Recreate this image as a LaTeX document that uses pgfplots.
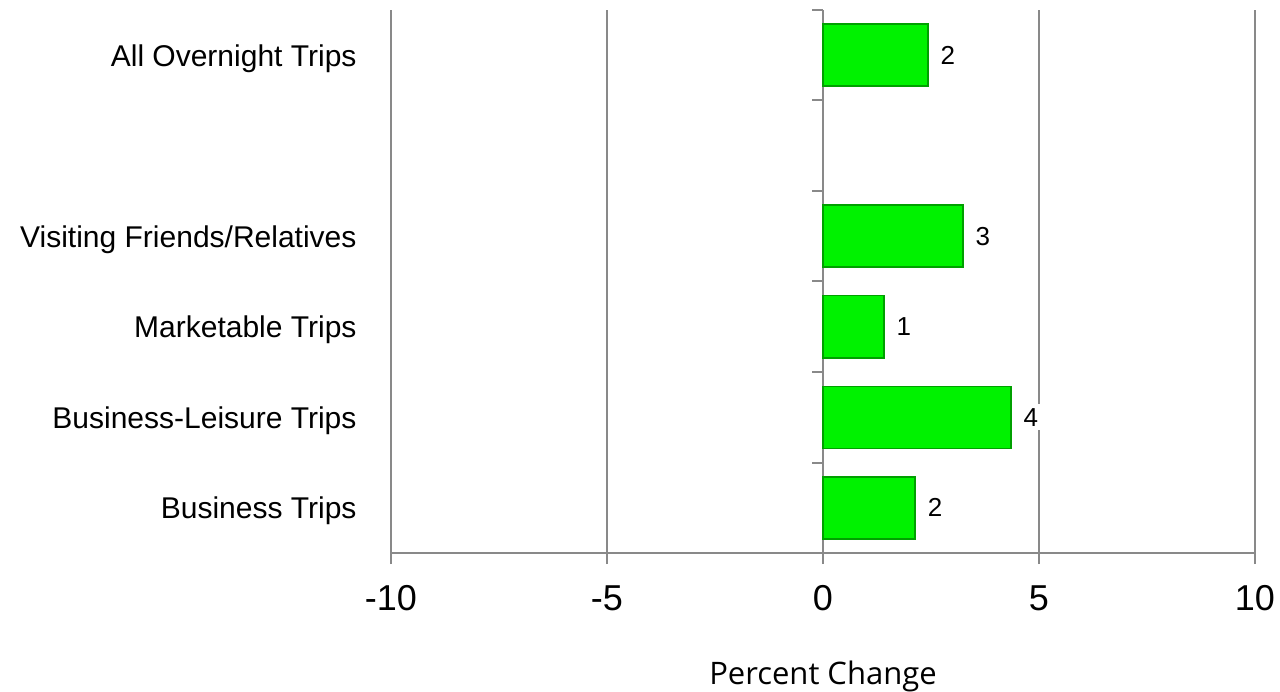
\documentclass[border=0pt]{standalone}
\usepackage{pgfplots}
\pgfplotsset{compat=1.18}
\usepackage{fontspec}
\setmainfont{Liberation Sans}
\newfontfamily\labelfont{Open Sans}
\definecolor{gridgray}{RGB}{137,137,137}
\definecolor{bargreen}{RGB}{0,242,0}
\definecolor{baredge}{RGB}{0,160,0}
\begin{document}
\begin{tikzpicture}
\begin{axis}[
  scale only axis, width=864pt, height=543pt,
  xmin=-10, xmax=10, ymin=-0.5, ymax=5.5,
  axis x line*=bottom, axis y line*=left,
  y axis line style={draw=none},
  x axis line style={gridgray, line width=2pt},
  xtick={-10,-5,0,5,10},
  xticklabels={-10,-5,0,5,10},
  ytick={0,1,2,3,4,5},
  yticklabels={Business Trips, Business-Leisure Trips, Marketable Trips, Visiting Friends/Relatives, {}, All Overnight Trips},
  xtick align=outside, ytick align=outside, major tick length=11pt,
  x tick style={draw=gridgray, line width=2pt},
  y tick style={draw=none},
  xmajorgrids, grid style={gridgray, line width=2pt},
  xticklabel style={font=\fontsize{36}{40}\selectfont, yshift=-18pt},
  yticklabel style={font=\fontsize{30}{34}\selectfont, xshift=-20pt, yshift=-3pt},
  xlabel={Percent Change},
  x label style={font=\labelfont\fontsize{31}{36}\selectfont, at={(axis description cs:0.5,0)}, anchor=center, yshift=-123pt},
  xbar, bar width=62pt,
  point meta=explicit symbolic,
  nodes near coords,
  every node near coord/.append style={font=\fontsize{26}{30}\selectfont, fill=white, inner sep=4pt, anchor=west, xshift=8pt, text=black},
]
\addplot[fill=bargreen, draw=baredge, line width=1.5pt] coordinates {
  (2.13,0) [2]
  (4.35,1) [4]
  (1.41,2) [1]
  (3.24,3) [3]
  (2.43,5) [2]
};
\pgfplotsinvokeforeach{-0.5,0.5,1.5,2.5,3.5,4.5,5.5}{
  \draw[gridgray, line width=2pt] (axis cs:0,#1) -- ([xshift=-11pt]axis cs:0,#1);
}
\pgfplotsinvokeforeach{-10,-5,0,5,10}{
  \draw[gridgray, line width=2pt] (axis cs:#1,-0.5) -- ([yshift=-11pt]axis cs:#1,-0.5);
}
\end{axis}
\pgfresetboundingbox
\path[use as bounding box] ([xshift=-391pt,yshift=-138pt]current axis.south west) rectangle ([xshift=25pt,yshift=10pt]current axis.north east);
\end{tikzpicture}
\end{document}
